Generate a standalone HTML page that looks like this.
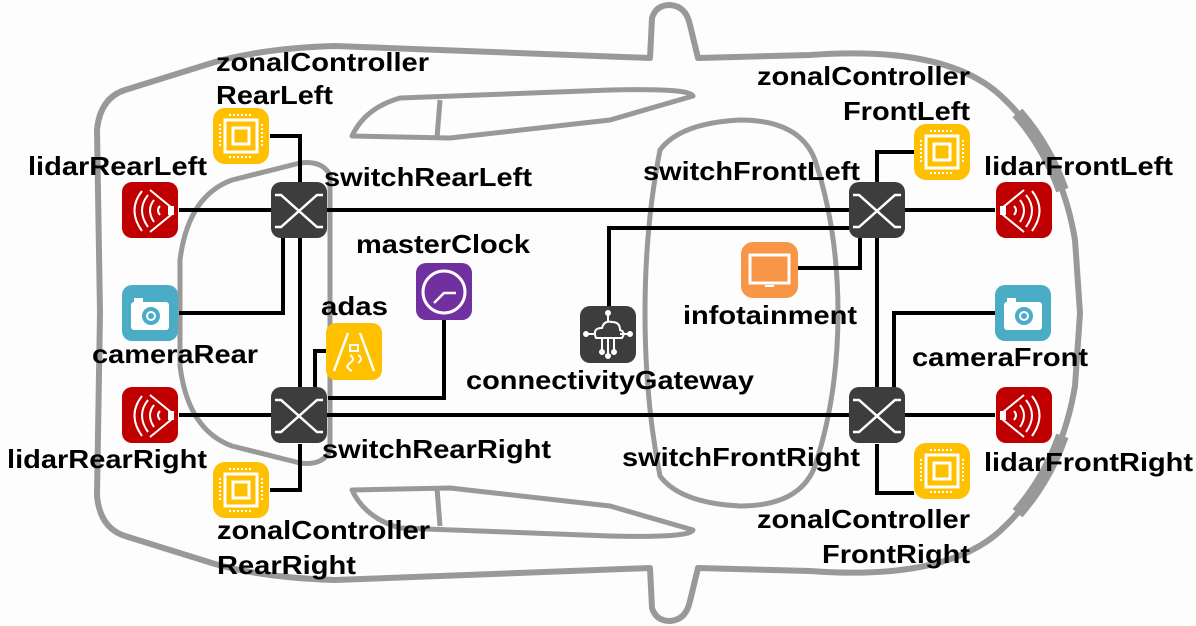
<!DOCTYPE html>
<html><head><meta charset="utf-8"><style>
html,body{margin:0;padding:0;background:#fdfdfd;}
svg{display:block}
text{font-family:"Liberation Sans",sans-serif;font-weight:bold;font-size:26px;fill:#000}
</style></head><body>
<svg width="1196" height="626" viewBox="0 0 1196 626" xmlns="http://www.w3.org/2000/svg">
<rect width="1196" height="626" fill="#fdfdfd"/>
<g fill="none" stroke="#999" stroke-width="6" stroke-linejoin="round">
<path d="M100,313 L97,130 Q100,98 125,90 L215,62 Q265,48 335,46 L650,58 L652,18 Q656,5 670,5 Q686,6 690,25 L698,58 L810,55 Q945,45 1000,95 Q1060,150 1075,240 L1080,313 L1075,386 Q1060,476 1000,531 Q945,581 810,571 L698,568 L690,601 Q686,620 670,621 Q656,621 652,608 L650,568 L335,580 Q265,578 215,564 L125,536 Q100,528 97,496 Z"/>
<path d="M330,175 Q322,160 300,163 L232,180 Q188,196 180,260 L180,366 Q188,430 232,446 L300,463 Q322,466 330,451 Z" stroke-width="5"/>
<path d="M660,150 Q680,123 740,120 Q800,120 815,160 Q838,230 838,313 Q838,396 815,466 Q800,506 740,506 Q680,503 660,476 Q645,400 645,313 Q645,226 660,150 Z" stroke-width="5"/>
<path d="M352,136 Q365,108 400,98 L610,90 Q690,88 693,96 L610,120 L450,138 Z M440,100 L437,138" stroke-width="5"/>
<path d="M352,490 Q365,518 400,528 L610,536 Q690,538 693,530 L610,506 L450,488 Z M440,526 L437,488" stroke-width="5"/>
<path d="M1000,95 Q1060,150 1075,240 M1000,531 Q1060,476 1075,386" stroke-width="13" stroke-dasharray="0 25 90 1000"/>
</g>
<g fill="none" stroke="#000" stroke-width="4">
<path d="M179,210 H849 M905,210 H995"/>
<path d="M179,415 H995"/>
<path d="M270,136 H300 V182 M179,313 H283 V238 M300,238 V387 M270,490 H300 V444"/>
<path d="M326,351 H315 V387 M444,320 V398 H328"/>
<path d="M609,306 V228 H849 M798,268 H860 V238 M877,238 V387 M995,313 H894 V387 M914,152 H877 V182 M914,493 H877 V444"/>
</g>
<defs>
<g id="lidar"><rect width="56" height="56" rx="10" fill="#c00000"/><g fill="none" stroke="#fff" stroke-width="2"><path d="M28,8 L50,26 L50,32 L28,50"/><path d="M38,24 Q34,28 38,33"/><path d="M32,18 Q24,28 32,40"/><path d="M26,13 Q14,28 26,45"/><path d="M20,9 Q5,28 20,49"/></g><rect x="46" y="24" width="6" height="9" fill="#fff"/></g>
<g id="chip"><rect width="56" height="56" rx="12" fill="#ffc000"/><rect x="12" y="12" width="32" height="32" fill="none" stroke="#fff" stroke-width="3"/><rect x="20" y="20" width="16" height="16" fill="none" stroke="#fff" stroke-width="3"/><g stroke="#fff" stroke-width="2" stroke-dasharray="2 2"><path d="M16,7 H40 M16,49 H40 M7,16 V40 M49,16 V40"/></g></g>
<g id="sw"><rect width="56" height="56" rx="10" fill="#3d3d3d"/><path d="M4,13 H10 L46,45 H52 M4,45 H10 L46,13 H52" fill="none" stroke="#fff" stroke-width="2.5"/></g>
<g id="cam"><rect width="56" height="56" rx="10" fill="#4bacc6"/><rect x="9" y="17" width="38" height="28" rx="3" fill="#fff"/><rect x="12" y="13" width="9" height="5" fill="#fff"/><circle cx="29" cy="31" r="9" fill="#4bacc6"/><circle cx="29" cy="31" r="5" fill="#fff"/><circle cx="29" cy="31" r="3" fill="#4bacc6"/></g>
</defs>
<use href="#lidar" x="122" y="182"/>
<use href="#lidar" x="122" y="387"/>
<use href="#lidar" x="995" y="182" transform="translate(2047,0) scale(-1,1)"/>
<use href="#lidar" x="995" y="387" transform="translate(2047,0) scale(-1,1)"/>
<use href="#chip" x="213" y="108"/>
<use href="#chip" x="213" y="462"/>
<use href="#chip" x="914" y="124"/>
<use href="#chip" x="914" y="443"/>
<use href="#sw" x="271" y="182"/>
<use href="#sw" x="271" y="387"/>
<use href="#sw" x="849" y="182"/>
<use href="#sw" x="849" y="387"/>
<use href="#cam" x="122" y="285"/>
<use href="#cam" x="995" y="285"/>
<g transform="translate(416,263)"><rect width="56" height="57" rx="10" fill="#7030a0"/><circle cx="28" cy="29" r="21" fill="none" stroke="#fff" stroke-width="3"/><path d="M18,40 L28,30 H40" fill="none" stroke="#fff" stroke-width="2.5"/></g>
<g transform="translate(326,323)"><rect width="56" height="57" rx="10" fill="#ffc000"/><path d="M8,48 L22,10 M48,48 L34,10" stroke="#fff" stroke-width="2.5"/><path d="M24,22 h8 v6 h-8z M24,32 q6,4 0,8 q-6,4 2,8 M32,32 q6,4 0,8" fill="none" stroke="#fff" stroke-width="2"/></g>
<g transform="translate(741,242)"><rect width="57" height="56" rx="12" fill="#f79646"/><rect x="9" y="13" width="39" height="28" fill="none" stroke="#fff" stroke-width="3"/><path d="M24,44 h9" stroke="#fff" stroke-width="2"/></g>
<g transform="translate(580,306)"><rect width="56" height="57" rx="10" fill="#3d3d3d"/><path d="M16,32 Q12,22 22,22 Q24,14 32,16 Q40,16 40,24 Q46,26 42,32 Z" fill="none" stroke="#fff" stroke-width="2"/><g stroke="#fff" stroke-width="2" fill="#fff"><path d="M22,32 V44 M28,32 V48 M34,32 V44 M40,28 H50 M16,28 H6 M28,16 V8"/><circle cx="22" cy="46" r="2"/><circle cx="28" cy="50" r="2"/><circle cx="34" cy="46" r="2"/><circle cx="50" cy="28" r="2"/><circle cx="6" cy="28" r="2"/><circle cx="28" cy="7" r="2"/></g></g>
<g lengthAdjust="spacingAndGlyphs">
<text x="216" y="71" textLength="213" lengthAdjust="spacingAndGlyphs">zonalController</text>
<text x="216" y="104" textLength="117" lengthAdjust="spacingAndGlyphs">RearLeft</text>
<text x="28" y="175" textLength="179" lengthAdjust="spacingAndGlyphs">lidarRearLeft</text>
<text x="324" y="186" textLength="208" lengthAdjust="spacingAndGlyphs">switchRearLeft</text>
<text x="356" y="253" textLength="174" lengthAdjust="spacingAndGlyphs">masterClock</text>
<text x="321" y="315" textLength="67" lengthAdjust="spacingAndGlyphs">adas</text>
<text x="92" y="363" textLength="166" lengthAdjust="spacingAndGlyphs">cameraRear</text>
<text x="7" y="468" textLength="200" lengthAdjust="spacingAndGlyphs">lidarRearRight</text>
<text x="322" y="458" textLength="229" lengthAdjust="spacingAndGlyphs">switchRearRight</text>
<text x="217" y="539" textLength="213" lengthAdjust="spacingAndGlyphs">zonalController</text>
<text x="217" y="574" textLength="139" lengthAdjust="spacingAndGlyphs">RearRight</text>
<text x="466" y="389" textLength="288" lengthAdjust="spacingAndGlyphs">connectivityGateway</text>
<text x="643" y="180" textLength="217" lengthAdjust="spacingAndGlyphs">switchFrontLeft</text>
<text x="757" y="85" textLength="213" lengthAdjust="spacingAndGlyphs">zonalController</text>
<text x="843" y="120" textLength="127" lengthAdjust="spacingAndGlyphs">FrontLeft</text>
<text x="984" y="175" textLength="189" lengthAdjust="spacingAndGlyphs">lidarFrontLeft</text>
<text x="683" y="324" textLength="174" lengthAdjust="spacingAndGlyphs">infotainment</text>
<text x="912" y="366" textLength="176" lengthAdjust="spacingAndGlyphs">cameraFront</text>
<text x="622" y="466" textLength="238" lengthAdjust="spacingAndGlyphs">switchFrontRight</text>
<text x="984" y="471" textLength="209" lengthAdjust="spacingAndGlyphs">lidarFrontRight</text>
<text x="757" y="528" textLength="213" lengthAdjust="spacingAndGlyphs">zonalController</text>
<text x="822" y="563" textLength="148" lengthAdjust="spacingAndGlyphs">FrontRight</text>
</g>
</svg>
</body></html>
